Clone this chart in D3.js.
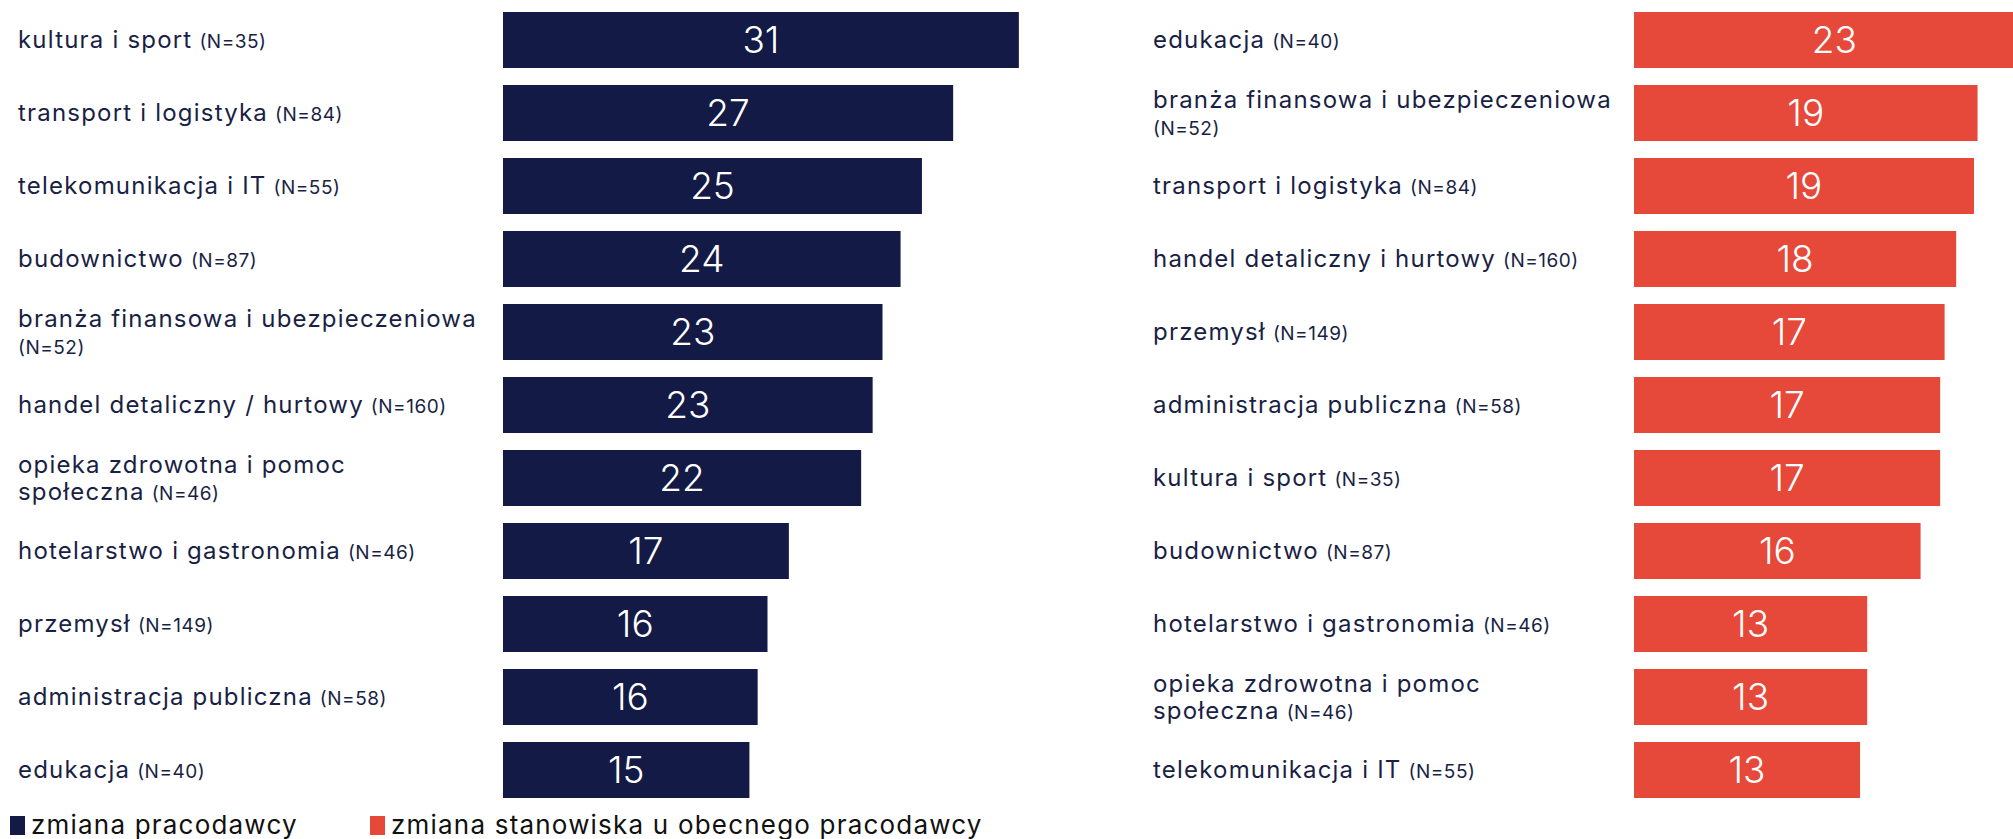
<!doctype html>
<html>
<head>
<meta charset="utf-8">
<style>
    body { margin: 0; background: #fff; }
    .cat { fill: #1a1f45; font-family: Inter, "Noto Sans", sans-serif; font-size: 24px; letter-spacing: 1.2px; }
    .cat .n { font-size: 19px; letter-spacing: 0.5px; }
    .val { fill: #fff; font-family: Inter, Roboto, sans-serif; font-weight: 300; font-size: 37px; }
    .legend text { fill: #111; font-family: Inter, "Noto Sans", sans-serif; font-size: 26px; letter-spacing: 1.2px; }
</style>
<script src="https://d3js.org/d3.v7.min.js"></script>
</head>
<body>
<svg width="2013" height="839"></svg>
<script>
// left panel: zmiana pracodawcy
var leftCategories = ["kultura i sport", "transport i logistyka", "telekomunikacja i IT", "budownictwo",
    "branża finansowa i ubezpieczeniowa\n", "handel detaliczny / hurtowy", "opieka zdrowotna i pomoc\nspołeczna",
    "hotelarstwo i gastronomia", "przemysł", "administracja publiczna", "edukacja"];
var leftN = [35, 84, 55, 87, 52, 160, 46, 46, 149, 58, 40];
var leftValues = [31.4, 27.4, 25.5, 24.2, 23.1, 22.5, 21.8, 17.4, 16.1, 15.5, 15.0];
var leftLabels = [31, 27, 25, 24, 23, 23, 22, 17, 16, 16, 15];

// right panel: zmiana stanowiska u obecnego pracodawcy
var rightCategories = ["edukacja", "branża finansowa i ubezpieczeniowa\n", "transport i logistyka",
    "handel detaliczny i hurtowy", "przemysł", "administracja publiczna", "kultura i sport", "budownictwo",
    "hotelarstwo i gastronomia", "opieka zdrowotna i pomoc\nspołeczna", "telekomunikacja i IT"];
var rightN = [40, 52, 84, 160, 149, 58, 35, 87, 46, 46, 55];
var rightValues = [22.5, 19.3, 19.1, 18.1, 17.45, 17.2, 17.2, 16.1, 13.1, 13.1, 12.7];
var rightLabels = [23, 19, 19, 18, 17, 17, 17, 16, 13, 13, 13];

var legendLabels = ["zmiana pracodawcy", "zmiana stanowiska u obecnego pracodawcy"];
var colors = ["#131a45", "#e64839"];

var svg = d3.select("svg");

var y = d3.scaleBand()
    .domain(d3.range(leftCategories.length))
    .range([12, 798])
    .paddingInner(0.233)
    .paddingOuter(0);

var xLeft = d3.scaleLinear().domain([0, 31.5]).range([503, 1020.5]);
var xRight = d3.scaleLinear().domain([0, 22.5]).range([1634, 2034.5]);

function panel(cats, ns, vals, labels, x, labelX, color) {
    var g = svg.append("g");
    var rows = g.selectAll(".row")
        .data(vals)
        .enter().append("g")
        .attr("class", "row");

    rows.append("rect")
        .attr("x", x(0))
        .attr("y", function(d, i) { return y(i); })
        .attr("width", function(d) { return x(d) - x(0); })
        .attr("height", y.bandwidth())
        .attr("fill", color);

    rows.append("text")
        .attr("class", "val")
        .attr("x", function(d) { return (x(0) + x(d)) / 2; })
        .attr("y", function(d, i) { return y(i) + y.bandwidth() / 2; })
        .attr("dy", "0.36em")
        .attr("text-anchor", "middle")
        .text(function(d, i) { return labels[i]; });

    rows.each(function(d, i) {
        var lines = cats[i].split("\n");
        var mid = y(i) + y.bandwidth() / 2;
        var t = d3.select(this).append("text").attr("class", "cat");
        var base = function(j) { return lines.length > 1 ? mid - 5 + j * 27 : mid + 8; };
        lines.forEach(function(line, j) {
            if (line !== "") t.append("tspan").attr("x", labelX).attr("y", base(j)).text(line);
        });
        var lastIdx = lines.length - 1;
        var n = t.append("tspan").attr("class", "n").text("(N=" + ns[i] + ")");
        if (lines[lastIdx] === "") n.attr("x", labelX).attr("y", base(lastIdx));
        else n.attr("dx", 7);
    });
}

panel(leftCategories, leftN, leftValues, leftLabels, xLeft, 18, colors[0]);
panel(rightCategories, rightN, rightValues, rightLabels, xRight, 1153, colors[1]);

// legend
var legend = svg.append("g").attr("class", "legend");
var lx = [10, 370];
legendLabels.forEach(function(l, i) {
    legend.append("rect")
        .attr("x", lx[i]).attr("y", 816)
        .attr("width", 15).attr("height", 19)
        .attr("fill", colors[i]);
    legend.append("text")
        .attr("x", lx[i] + 21).attr("y", 834)
        .text(l);
});
</script>
</body>
</html>
